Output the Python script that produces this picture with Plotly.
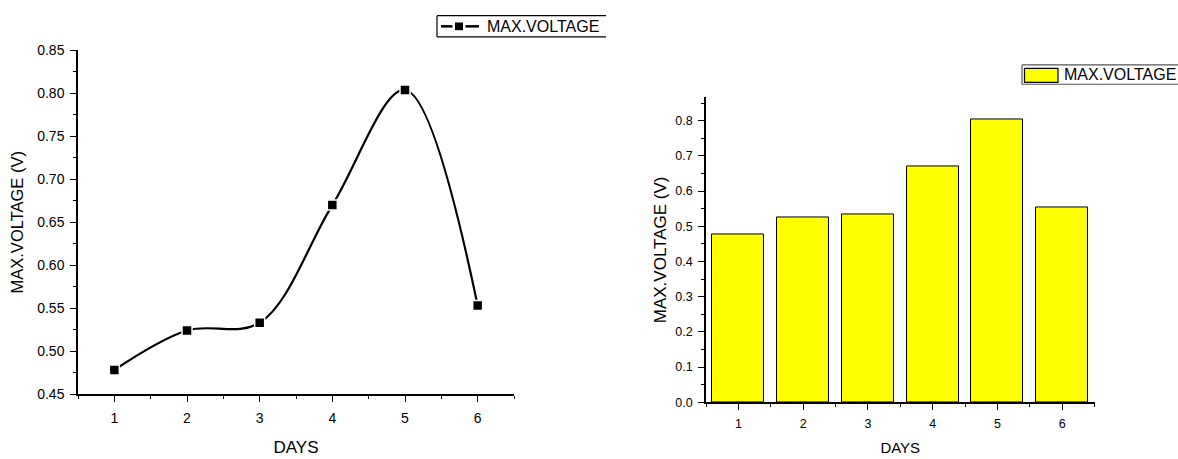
import plotly.graph_objects as go

# Daily maximum voltage readings
days = [1, 2, 3, 4, 5, 6]
max_voltage = [0.478, 0.524, 0.533, 0.670, 0.804, 0.553]
series_name = "MAX.VOLTAGE"
x_title = "DAYS"
y_title = "MAX.VOLTAGE (V)"

W, H = 1178, 459
FONT = "Arial, Liberation Sans, sans-serif"


def px(x):
    return x / W


def py(y):
    return 1 - y / H


fig = go.Figure()

# Left panel: smoothed line with square markers
fig.add_trace(go.Scatter(
    x=days, y=max_voltage, mode="lines+markers", name=series_name,
    line=dict(color="black", width=2.2, shape="spline", smoothing=1.0),
    marker=dict(symbol="square", size=10, color="black",
                line=dict(color="white", width=1.5)),
    xaxis="x", yaxis="y", showlegend=False, cliponaxis=False,
))

# Right panel: yellow columns
fig.add_trace(go.Bar(
    x=days, y=max_voltage, name=series_name, width=0.8,
    marker=dict(color="#FFFF00", line=dict(color="black", width=1)),
    xaxis="x2", yaxis="y2", showlegend=False,
))

axis_common = dict(
    showline=True, linecolor="black", linewidth=1.5, mirror=False,
    ticks="outside", tickcolor="black", tickwidth=1.2, ticklen=6,
    showgrid=False, zeroline=False,
)

fig.update_layout(
    width=W, height=H,
    margin=dict(l=0, r=0, t=0, b=0),
    paper_bgcolor="white", plot_bgcolor="white",
    font=dict(family=FONT, color="black"),
    showlegend=False,
    bargap=0,
    xaxis=dict(
        domain=[px(78), px(514)], anchor="y", range=[0.5, 6.5],
        tickmode="linear", tick0=1, dtick=1,
        minor=dict(ticks="outside", tick0=0.5, dtick=0.5, ticklen=3,
                   tickcolor="black", tickwidth=1.2),
        tickfont=dict(size=14), ticklabelstandoff=4,
        title=dict(text=x_title, font=dict(size=17), standoff=16),
        **axis_common,
    ),
    yaxis=dict(
        domain=[py(400), py(44)], anchor="x", range=[0.45, 0.85],
        tickmode="linear", tick0=0.45, dtick=0.05, tickformat=".2f",
        minor=dict(ticks="outside", tick0=0.45, dtick=0.025, ticklen=3,
                   tickcolor="black", tickwidth=1.2),
        tickfont=dict(size=14), ticklabelstandoff=3,
        title=dict(text=y_title, font=dict(size=16.5), standoff=9),
        **axis_common,
    ),
    xaxis2=dict(
        domain=[px(706), px(1094.5)], anchor="y2", range=[0.5, 6.5],
        tickmode="linear", tick0=1, dtick=1,
        minor=dict(ticks="outside", tick0=0.5, dtick=0.5, ticklen=3,
                   tickcolor="black", tickwidth=1.2),
        tickfont=dict(size=12.5), ticklabelstandoff=3,
        title=dict(text=x_title, font=dict(size=15), standoff=12),
        **axis_common,
    ),
    yaxis2=dict(
        domain=[py(408.5), py(92.7)], anchor="x2", range=[0, 0.866],
        tickmode="linear", tick0=0, dtick=0.1, tickformat=".1f",
        minor=dict(ticks="outside", tick0=0, dtick=0.05, ticklen=3,
                   tickcolor="black", tickwidth=1.2),
        tickfont=dict(size=12.5), ticklabelstandoff=3,
        title=dict(text=y_title, font=dict(size=17), standoff=4),
        **axis_common,
    ),
)

# Legend box for the line panel (open on its right side)
shapes = []
ann = []
lx0, lx1, ly0, ly1 = 437, 606, 8, 30
for (xa, ya, xb, yb) in [(lx0, ly0, lx1, ly0), (lx0, ly1, lx1, ly1), (lx0, ly0, lx0, ly1)]:
    shapes.append(dict(type="line", xref="paper", yref="paper",
                       x0=px(xa), y0=py(ya), x1=px(xb), y1=py(yb),
                       line=dict(color="black", width=1.2)))
ymid = (ly0 + ly1) / 2
for (xa, xb) in [(441, 452.5), (465.5, 479)]:
    shapes.append(dict(type="line", xref="paper", yref="paper",
                       x0=px(xa), y0=py(ymid), x1=px(xb), y1=py(ymid),
                       line=dict(color="black", width=2.5)))
shapes.append(dict(type="rect", xref="paper", yref="paper",
                   x0=px(455), y0=py(ymid - 4), x1=px(463), y1=py(ymid + 4),
                   fillcolor="black", line=dict(color="black", width=0)))
ann.append(dict(text=series_name, xref="paper", yref="paper",
                x=px(485), y=py(ymid), xanchor="left", yanchor="middle",
                showarrow=False, font=dict(size=16)))

# Legend box for the column panel (runs off the right edge)
rx0, rx1, ry0, ry1 = 1022, 1200, 59, 79
for (xa, ya, xb, yb) in [(rx0, ry0, rx1, ry0), (rx0, ry1, rx1, ry1), (rx0, ry0, rx0, ry1)]:
    shapes.append(dict(type="line", xref="paper", yref="paper",
                       x0=px(xa), y0=py(ya), x1=px(xb), y1=py(yb),
                       line=dict(color="#555555", width=1.2)))
shapes.append(dict(type="rect", xref="paper", yref="paper",
                   x0=px(1024.5), y0=py(77), x1=px(1058), y1=py(62.5),
                   fillcolor="#FFFF00", line=dict(color="black", width=1.2)))
rymid = (ry0 + ry1) / 2
ann.append(dict(text=series_name, xref="paper", yref="paper",
                x=px(1062), y=py(rymid), xanchor="left", yanchor="middle",
                showarrow=False, font=dict(size=16)))

fig.update_layout(shapes=shapes, annotations=ann)

fig.write_html("out.html")
